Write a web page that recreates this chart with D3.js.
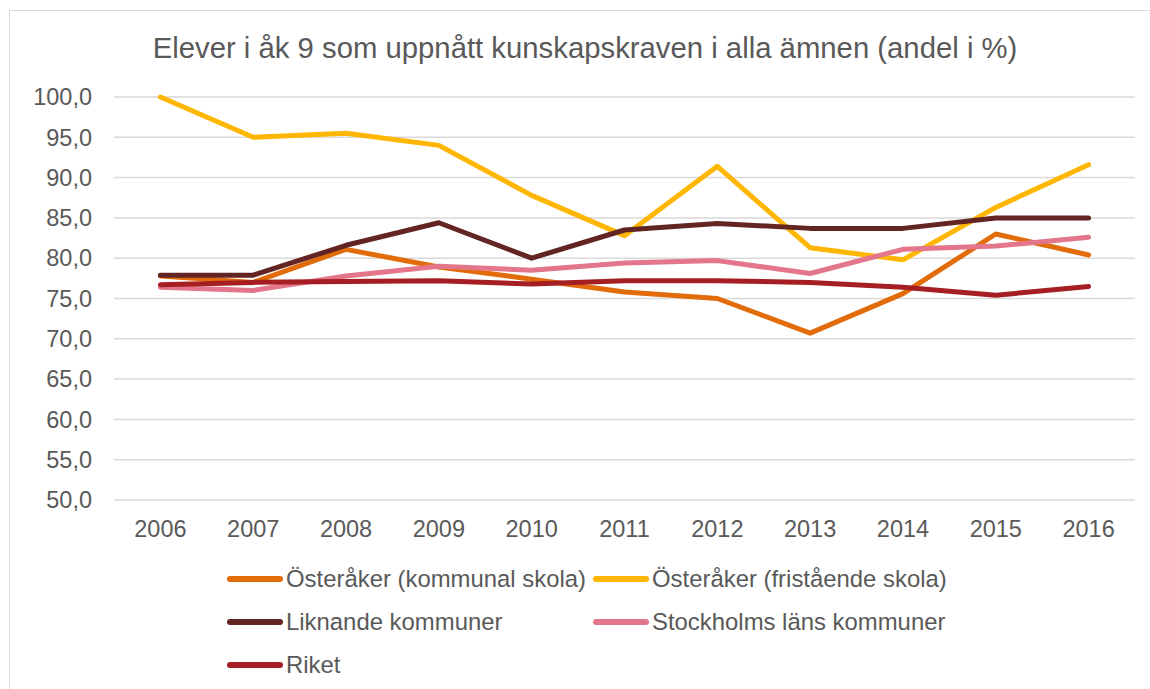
<!DOCTYPE html>
<html>
<head>
<meta charset="utf-8">
<script src="https://cdn.jsdelivr.net/npm/d3@7"></script>
<style>
  body { margin: 0; background: #fff; }
  text { font-family: "Liberation Sans", Arial, sans-serif; fill: #595959; }
</style>
</head>
<body>
<script>
// data
var years = ["2006","2007","2008","2009","2010","2011","2012","2013","2014","2015","2016"];
var seriesNames = ["Österåker (kommunal skola)", "Österåker (fristående skola)", "Liknande kommuner", "Stockholms läns kommuner", "Riket"];
var kommunal   = [77.8, 77.0, 81.1, 78.9, 77.4, 75.8, 75.0, 70.7, 75.6, 83.0, 80.4];
var fristaende = [100.0, 95.0, 95.5, 94.0, 87.8, 82.8, 91.4, 81.3, 79.8, 86.3, 91.6];
var liknande   = [77.9, 77.9, 81.6, 84.4, 80.0, 83.5, 84.3, 83.7, 83.7, 85.0, 85.0];
var stockholm  = [76.4, 76.0, 77.8, 79.0, 78.5, 79.4, 79.7, 78.1, 81.1, 81.5, 82.6];
var riket      = [76.7, 77.0, 77.1, 77.2, 76.8, 77.2, 77.2, 77.0, 76.4, 75.4, 76.5];
var yTicks = [50, 55, 60, 65, 70, 75, 80, 85, 90, 95, 100];

var colors = ["#E26B0A", "#FFB600", "#632523", "#E3768A", "#A51E22"];
var allValues = [kommunal, fristaende, liknande, stockholm, riket];

var width = 1150, height = 689;
var margin = {top: 97, right: 15, bottom: 189, left: 114};

var svg = d3.select("body").append("svg")
    .attr("width", width)
    .attr("height", height);

// outer frame
svg.append("rect")
    .attr("x", 9.5).attr("y", 10.5)
    .attr("width", 1160).attr("height", 700)
    .attr("fill", "none")
    .attr("stroke", "#d9d9d9");

// scales
var x = d3.scaleBand()
    .domain(years)
    .range([margin.left, width - margin.right]);

var y = d3.scaleLinear()
    .domain([50, 100])
    .range([height - margin.bottom, margin.top]);

// gridlines
svg.append("g").selectAll("line")
    .data(yTicks)
  .enter().append("line")
    .attr("x1", margin.left)
    .attr("x2", width - margin.right)
    .attr("y1", function(d) { return y(d); })
    .attr("y2", function(d) { return y(d); })
    .attr("stroke", "#d9d9d9")
    .attr("stroke-width", 1.5);

// y labels
var fmt = function(d) { return d3.format(".1f")(d).replace(".", ","); };
svg.append("g").selectAll("text")
    .data(yTicks)
  .enter().append("text")
    .attr("x", 92)
    .attr("y", function(d) { return y(d); })
    .attr("dy", "0.35em")
    .attr("text-anchor", "end")
    .style("font-size", "23.5px")
    .text(fmt);

// x labels
svg.append("g").selectAll("text")
    .data(years)
  .enter().append("text")
    .attr("x", function(d) { return x(d) + x.bandwidth() / 2; })
    .attr("y", 537)
    .attr("text-anchor", "middle")
    .style("font-size", "23.5px")
    .text(function(d) { return d; });

// title
svg.append("text")
    .attr("x", 585)
    .attr("y", 58)
    .attr("text-anchor", "middle")
    .style("font-size", "29.3px")
    .text("Elever i åk 9 som uppnått kunskapskraven i alla ämnen (andel i %)");

// lines
var line = d3.line()
    .x(function(d, i) { return x(years[i]) + x.bandwidth() / 2; })
    .y(function(d) { return y(d); });

svg.append("g").selectAll("path")
    .data(allValues)
  .enter().append("path")
    .attr("d", line)
    .attr("fill", "none")
    .attr("stroke", function(d, i) { return colors[i]; })
    .attr("stroke-width", 5)
    .attr("stroke-linejoin", "round")
    .attr("stroke-linecap", "round");

// legend
var legendPos = [[227, 579], [593, 579], [227, 622], [593, 622], [227, 665]];
var lg = svg.append("g").selectAll("g")
    .data(seriesNames)
  .enter().append("g")
    .attr("transform", function(d, i) { return "translate(" + legendPos[i][0] + "," + legendPos[i][1] + ")"; });

lg.append("line")
    .attr("x1", 3).attr("x2", 53)
    .attr("stroke", function(d, i) { return colors[i]; })
    .attr("stroke-width", 6)
    .attr("stroke-linecap", "round");

lg.append("text")
    .attr("x", 59)
    .attr("dy", "0.35em")
    .style("font-size", "23.9px")
    .text(function(d) { return d; });
</script>
</body>
</html>
